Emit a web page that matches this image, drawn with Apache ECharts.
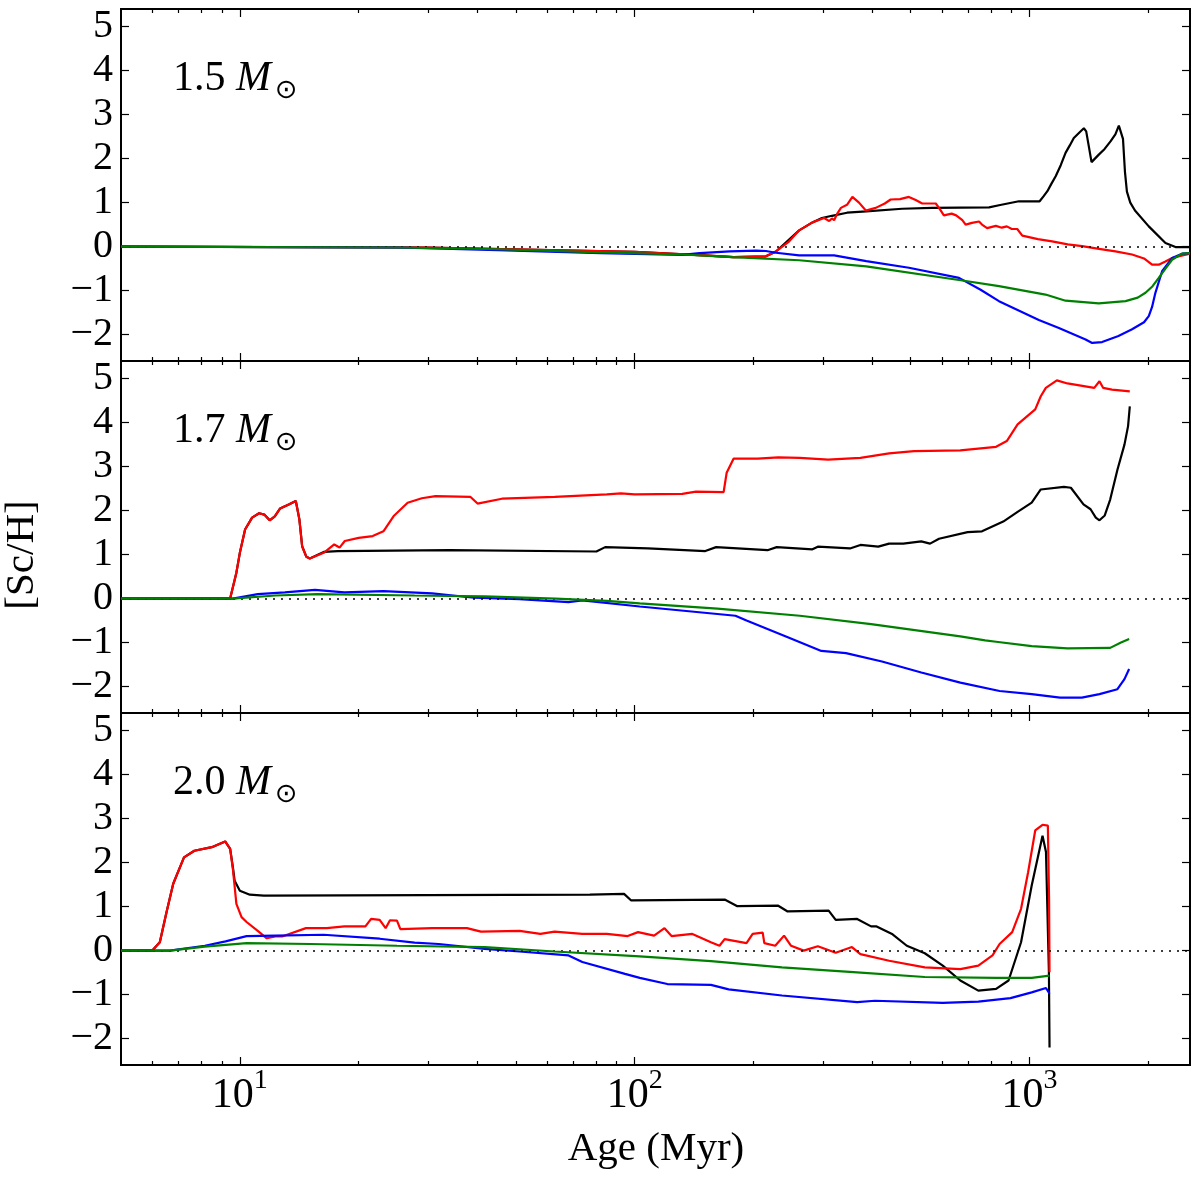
<!DOCTYPE html>
<html>
<head>
<meta charset="utf-8">
<title>[Sc/H] vs age</title>
<script src="https://cdn.jsdelivr.net/npm/echarts@6/dist/echarts.min.js"></script>
<style>
  html, body { margin: 0; padding: 0; background: #fff; }
  #main { width: 1200px; height: 1187px; }
</style>
</head>
<body>
<div id="main"></div>
<script>
// [age (Myr), [Sc/H]], one list per curve

// 1.5 Msun
const m15Black = [[5,0],[30,-0.02],[100,-0.12],[150,-0.2],[178,-0.24],[215,-0.22],[228,-0.11],[261,0.37],[282,0.55],[298,0.65],[316,0.70],[345,0.77],[386,0.80],[476,0.86],[566,0.88],[790,0.89],[837,0.94],[940,1.03],[1061,1.03],[1085,1.14],[1110,1.26],[1135,1.42],[1165,1.60],[1200,1.85],[1234,2.13],[1265,2.30],[1295,2.47],[1340,2.60],[1373,2.69],[1392,2.62],[1412,2.3],[1436,1.92],[1498,2.09],[1550,2.22],[1604,2.39],[1650,2.55],[1684,2.75],[1700,2.72],[1725,2.45],[1745,1.7],[1765,1.25],[1800,1.0],[1850,0.82],[2005,0.46],[2210,0.08],[2343,-0.01],[2550,-0.01]];
const m15Red = [[5,0],[30,-0.02],[100,-0.12],[150,-0.2],[178,-0.24],[215,-0.22],[228,-0.11],[245,0.1],[261,0.37],[282,0.55],[302,0.65],[311,0.58],[316,0.64],[320,0.60],[326,0.75],[333,0.88],[345,0.95],[356,1.13],[370,1.0],[385,0.82],[408,0.88],[430,0.98],[445,1.07],[470,1.08],[495,1.13],[515,1.06],[535,0.98],[579,0.98],[590,0.88],[607,0.71],[635,0.75],[652,0.71],[676,0.60],[689,0.50],[715,0.54],[745,0.57],[758,0.50],[781,0.42],[822,0.47],[851,0.43],[876,0.46],[902,0.40],[931,0.40],[959,0.25],[1050,0.17],[1141,0.12],[1250,0.05],[1359,0.01],[1500,-0.05],[1651,-0.11],[1819,-0.18],[1950,-0.27],[2044,-0.41],[2125,-0.41],[2210,-0.34],[2297,-0.26],[2550,-0.16]];
const m15Blue = [[5,0],[25,-0.02],[45,-0.08],[82,-0.15],[132,-0.19],[146,-0.15],[174,-0.11],[203,-0.09],[215,-0.1],[228,-0.14],[261,-0.20],[293,-0.20],[320,-0.20],[386,-0.33],[495,-0.48],[663,-0.71],[752,-0.98],[837,-1.24],[1056,-1.67],[1187,-1.85],[1387,-2.11],[1441,-2.19],[1527,-2.17],[1680,-2.03],[1819,-1.88],[1950,-1.72],[2005,-1.58],[2044,-1.37],[2084,-1.05],[2167,-0.56],[2297,-0.26],[2435,-0.16],[2550,-0.15]];
const m15Green = [[5,0],[25,-0.02],[45,-0.06],[82,-0.13],[132,-0.18],[177,-0.24],[261,-0.31],[386,-0.45],[676,-0.77],[837,-0.90],[1098,-1.09],[1234,-1.23],[1498,-1.29],[1751,-1.24],[1880,-1.16],[1967,-1.05],[2050,-0.9],[2125,-0.71],[2210,-0.5],[2297,-0.30],[2435,-0.16],[2550,-0.15]];

// 1.7 Msun
const m17Black = [[5,0],[9.45,0],[9.8,0.59],[10,1.04],[10.31,1.57],[10.74,1.84],[11.19,1.94],[11.53,1.91],[11.9,1.78],[12.26,1.87],[12.65,2.05],[13.3,2.14],[13.86,2.22],[14.15,1.8],[14.38,1.19],[14.74,0.95],[15.04,0.91],[16.31,1.06],[17.7,1.08],[34,1.1],[80,1.07],[84.2,1.17],[108,1.14],[151,1.08],[160.8,1.17],[217,1.1],[229,1.17],[282,1.12],[291,1.18],[351,1.14],[373,1.22],[414,1.18],[441,1.25],[479,1.25],[532,1.3],[560,1.25],[590,1.36],[697,1.51],[758,1.53],[858,1.75],[933,1.97],[1013,2.18],[1068,2.48],[1222,2.54],[1273,2.52],[1370,2.14],[1428,2.03],[1472,1.84],[1504,1.78],[1551,1.89],[1601,2.25],[1670,2.93],[1740,3.5],[1777,3.92],[1795,4.37]];
const m17Red = [[5,0],[9.45,0],[9.8,0.59],[10,1.04],[10.31,1.57],[10.74,1.84],[11.19,1.94],[11.53,1.91],[11.9,1.78],[12.26,1.87],[12.65,2.05],[13.3,2.14],[13.86,2.22],[14.15,1.8],[14.38,1.19],[14.74,0.95],[15.04,0.91],[16.31,1.04],[17.34,1.23],[17.89,1.16],[18.44,1.31],[20,1.38],[21.7,1.42],[23.1,1.53],[24.5,1.87],[26.6,2.18],[28.9,2.28],[31.3,2.33],[38.4,2.31],[40,2.16],[46.1,2.27],[62.7,2.31],[85,2.37],[92.3,2.39],[100,2.37],[132,2.38],[143,2.43],[168,2.42],[171,2.86],[178,3.18],[205,3.18],[231,3.21],[262,3.2],[309,3.16],[373,3.2],[441,3.3],[510,3.35],[668,3.37],[823,3.45],[876,3.58],[933,3.96],[1034,4.3],[1068,4.6],[1100,4.79],[1173,4.96],[1248,4.89],[1459,4.79],[1504,4.94],[1536,4.79],[1618,4.75],[1795,4.71]];
const m17Blue = [[5,0],[9.6,0],[11.1,0.1],[13,0.14],[15.5,0.2],[18.4,0.14],[23.1,0.17],[30.7,0.12],[39.2,0.02],[51,-0.01],[68,-0.08],[73.7,-0.04],[103,-0.18],[180,-0.39],[192,-0.5],[246,-0.89],[297,-1.19],[343,-1.24],[423,-1.43],[532,-1.68],[668,-1.91],[840,-2.1],[1013,-2.17],[1195,-2.25],[1357,-2.25],[1504,-2.17],[1670,-2.06],[1740,-1.83],[1788,-1.6]];
const m17Green = [[5,0],[9.6,0],[12.3,0.07],[15.7,0.1],[27.7,0.07],[41.7,0.05],[63,0],[85,-0.05],[103,-0.11],[162,-0.23],[262,-0.39],[397,-0.58],[668,-0.86],[772,-0.95],[823,-0.98],[1013,-1.08],[1248,-1.13],[1601,-1.12],[1705,-1.0],[1788,-0.92]];

// 2.0 Msun
const m20Black = [[5,0],[6,0],[6.27,0.19],[6.52,0.87],[6.78,1.52],[7.22,2.12],[7.67,2.27],[8.49,2.35],[9.18,2.48],[9.45,2.31],[9.6,1.9],[9.7,1.59],[10,1.36],[10.6,1.27],[11.5,1.25],[77,1.27],[94,1.29],[98,1.14],[169,1.16],[182,1.01],[231,1.02],[244,0.89],[310,0.91],[323,0.7],[366,0.72],[397,0.55],[410,0.55],[450,0.37],[489,0.11],[543,-0.06],[603,-0.34],[668,-0.68],[742,-0.91],[823,-0.87],[885,-0.68],[952,0.19],[1013,1.48],[1079,2.61],[1101,2.24],[1120,-0.49],[1124,-2.2]];
const m20Red = [[5,0],[6,0],[6.27,0.19],[6.52,0.87],[6.78,1.52],[7.22,2.12],[7.67,2.27],[8.49,2.35],[9.18,2.48],[9.45,2.31],[9.6,1.86],[9.8,1.06],[10.1,0.76],[10.4,0.65],[11.1,0.45],[11.7,0.28],[12.3,0.32],[12.8,0.32],[14.7,0.51],[16.6,0.51],[18.4,0.55],[20.8,0.55],[21.5,0.72],[22.6,0.7],[23.4,0.51],[24,0.69],[25,0.68],[25.5,0.49],[30.7,0.51],[37.6,0.51],[40.8,0.43],[51.1,0.45],[57.7,0.38],[62.7,0.43],[73.7,0.38],[85,0.38],[96,0.33],[102,0.42],[112,0.34],[119,0.51],[124,0.33],[140,0.38],[156,0.19],[164,0.11],[169,0.26],[192,0.17],[199,0.38],[211,0.41],[213,0.17],[227,0.11],[239,0.34],[249,0.11],[268,0],[291,0.1],[323,-0.05],[355,0.08],[373,-0.08],[441,-0.23],[543,-0.38],[668,-0.42],[742,-0.34],[806,-0.11],[840,0.15],[904,0.42],[952,0.95],[992,1.78],[1034,2.73],[1079,2.86],[1113,2.84],[1121,1.17],[1124,-0.49]];
const m20Blue = [[5,0],[6.65,0],[8.15,0.11],[9.2,0.21],[10.4,0.33],[12.3,0.34],[16.3,0.36],[22.6,0.27],[27.7,0.18],[31.9,0.15],[41.7,0.04],[51.1,-0.02],[68,-0.11],[73.7,-0.26],[94.5,-0.53],[103,-0.62],[121,-0.76],[156,-0.78],[173,-0.88],[236,-1.02],[366,-1.17],[406,-1.14],[603,-1.19],[742,-1.16],[895,-1.08],[1013,-0.95],[1101,-0.85],[1124,-0.98]];
const m20Green = [[5,0],[6.65,0],[8.15,0.09],[10.4,0.17],[15.1,0.15],[25,0.11],[41.7,0.08],[62.7,-0.02],[103,-0.13],[156,-0.24],[236,-0.38],[358,-0.49],[543,-0.6],[823,-0.62],[1013,-0.62],[1124,-0.57]];

const massLabels = ['1.5', '1.7', '2.0'];
const majorTicks = [10, 100, 1000];
const minorTicks = [6, 7, 8, 9, 20, 30, 40, 50, 60, 70, 80, 90, 200, 300, 400, 500, 600, 700, 800, 900, 2000];
const yTicks = [-2, -1, 0, 1, 2, 3, 4, 5];

const panels = [
    [m15Black, m15Red, m15Blue, m15Green],
    [m17Black, m17Red, m17Blue, m17Green],
    [m20Black, m20Red, m20Blue, m20Green]
];
const lineColors = ['#000000', '#ff0000', '#0000ff', '#008000'];

const FONT = 'Liberation Serif';
const gridTop = [9, 361, 713];

let grids = gridTop.map(t => ({
    left: 121, top: t, width: 1069, height: 352,
    show: true, borderColor: '#000', borderWidth: 2, backgroundColor: 'transparent',
    containLabel: false, outerBoundsMode: 'none'
}));

function xAxisFor(g, pos, ticks, len, withLabels) {
    let ax = {
        type: 'log', logBase: 10, gridIndex: g, position: pos,
        min: 5, max: 2550,
        axisLine: {show: false, onZero: false},
        splitLine: {show: false},
        axisTick: {show: true, inside: true, length: len, customValues: ticks,
                   lineStyle: {color: '#000', width: 1.2}},
        axisLabel: {show: false}
    };
    if (withLabels) {
        ax.axisLabel = {
            show: true, customValues: ticks, margin: 2,
            formatter: v => '{b|10}{s|' + Math.round(Math.log10(v)) + '}',
            rich: {
                b: {fontFamily: FONT, fontSize: 42, lineHeight: 58, color: '#000', verticalAlign: 'middle'},
                s: {fontFamily: FONT, fontSize: 28, lineHeight: 20, color: '#000', verticalAlign: 'top'}
            }
        };
    }
    return ax;
}

function yAxisFor(g, pos, withLabels) {
    return {
        type: 'value', gridIndex: g, position: pos, min: -2.6, max: 5.4,
        axisLine: {show: false, onZero: false},
        splitLine: {show: false},
        axisTick: {show: true, inside: true, length: 8, customValues: yTicks,
                   lineStyle: {color: '#000', width: 1.2}},
        axisLabel: withLabels ? {
            show: true, customValues: yTicks, margin: 8,
            fontFamily: FONT, fontSize: 40, color: '#000',
            formatter: v => v < 0 ? '\u2212' + (-v) : String(v)
        } : {show: false}
    };
}

let xAxes = [];
let yAxes = [];
let series = [];
let graphics = [];

panels.forEach((lines, g) => {
    // 4 x axes per panel: bottom major, bottom minor, top major, top minor
    xAxes.push(xAxisFor(g, 'bottom', majorTicks, 8, g === 2));
    xAxes.push(xAxisFor(g, 'bottom', minorTicks, 4, false));
    xAxes.push(xAxisFor(g, 'top', majorTicks, 8, false));
    xAxes.push(xAxisFor(g, 'top', minorTicks, 4, false));
    yAxes.push(yAxisFor(g, 'left', true));
    yAxes.push(yAxisFor(g, 'right', false));

    lines.forEach((d, k) => {
        let s = {
            type: 'line', xAxisIndex: g * 4, yAxisIndex: g * 2,
            data: d, symbol: 'none', silent: true,
            lineStyle: {color: lineColors[k], width: 2.2},
            itemStyle: {color: lineColors[k]},
            z: 2 + k
        };
        if (k === 3) {
            s.markLine = {
                silent: true, symbol: ['none', 'none'],
                label: {show: false},
                lineStyle: {type: [2, 6], color: '#000', width: 1.6},
                data: [{yAxis: 0}]
            };
        }
        series.push(s);
    });

    graphics.push({
        type: 'text', x: 173, y: 54 + g * 352,
        style: {
            text: '{n|' + massLabels[g] + ' }{m|M}{s|\u2299}',
            align: 'left', verticalAlign: 'top',
            rich: {
                n: {fontFamily: FONT, fontSize: 42, lineHeight: 50, verticalAlign: 'middle', fill: '#000'},
                m: {fontFamily: FONT, fontStyle: 'italic', fontSize: 42, lineHeight: 50, verticalAlign: 'middle', fill: '#000'},
                s: {fontFamily: 'DejaVu Sans', fontSize: 27, lineHeight: 28, verticalAlign: 'bottom', fill: '#000', padding: [0, 0, 0, 4]}
            }
        }
    });
});

graphics.push({
    type: 'text', x: 22, y: 555, rotation: Math.PI / 2,
    style: {text: '[Sc/H]', fontFamily: FONT, fontSize: 41, fill: '#000', align: 'center', verticalAlign: 'middle'}
});
graphics.push({
    type: 'text', x: 656, y: 1149,
    style: {text: 'Age (Myr)', fontFamily: FONT, fontSize: 41, fill: '#000', align: 'center', verticalAlign: 'middle'}
});

let chart = echarts.init(document.getElementById('main'));
chart.setOption({
    animation: false,
    backgroundColor: '#ffffff',
    grid: grids,
    xAxis: xAxes,
    yAxis: yAxes,
    series: series,
    graphic: graphics
});
</script>
</body>
</html>
